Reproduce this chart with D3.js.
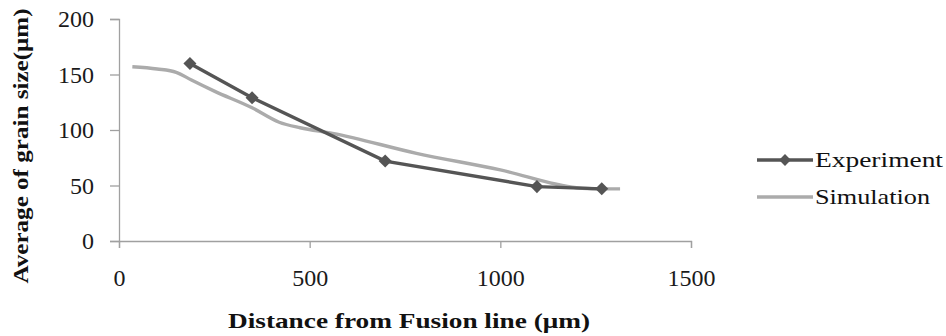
<!DOCTYPE html>
<html>
<head>
<meta charset="utf-8">
<script src="https://cdn.jsdelivr.net/npm/d3@7"></script>
<style>
  body { margin: 0; background: #fff; }
  svg text { font-family: "Times New Roman", "Liberation Serif", Tinos, Times, serif; }
</style>
</head>
<body>
<div id="chart"></div>
<script>
// data
const expX = [186, 349, 698, 1096, 1266];
const expY = [160, 129, 72, 49, 47];
const simX = [35, 100, 150, 190, 250, 349, 420, 475, 560, 780, 1000, 1200, 1250, 1314];
const simY = [157, 155, 152, 145, 135, 120, 107, 102, 97, 79, 64, 48, 47, 47];
const xTicks = [0, 500, 1000, 1500];
const yTicks = [0, 50, 100, 150, 200];
const seriesNames = ["Experiment", "Simulation"];

const width = 946;
const height = 336;
const margin = {left: 119, right: 255, top: 19, bottom: 95};

const svg = d3.select("#chart")
  .append("svg")
  .attr("width", width)
  .attr("height", height);

const xScale = d3.scaleLinear()
  .domain([0, 1500])
  .range([margin.left, width - margin.right]);

const yScale = d3.scaleLinear()
  .domain([0, 200])
  .range([height - margin.bottom, margin.top]);

// y axis
const yAxis = svg.append("g")
  .attr("transform", `translate(${margin.left},0)`)
  .call(d3.axisLeft(yScale).tickValues(yTicks).tickFormat(d3.format("d")).tickSize(9).tickPadding(16));

// x axis
const xAxis = svg.append("g")
  .attr("transform", `translate(0,${height - margin.bottom})`)
  .call(d3.axisBottom(xScale).tickValues(xTicks).tickFormat(d3.format("d")).tickSize(7).tickPadding(21));

yAxis.attr("font-family", null);
xAxis.attr("font-family", null);

svg.selectAll(".tick text")
  .attr("font-size", "24px")
  .attr("fill", "#1a1a1a");

svg.selectAll(".domain, .tick line").attr("stroke", "#a0a0a0").attr("stroke-width", 1.3);

// lines
const expData = expX.map((x, i) => ({x: x, y: expY[i]}));
const simData = simX.map((x, i) => ({x: x, y: simY[i]}));

svg.append("path")
  .datum(simData)
  .attr("fill", "none")
  .attr("stroke", "#ababab")
  .attr("stroke-width", 3.4)
  .attr("d", d3.line().x(d => xScale(d.x)).y(d => yScale(d.y)).curve(d3.curveMonotoneX));

svg.append("path")
  .datum(expData)
  .attr("fill", "none")
  .attr("stroke", "#555")
  .attr("stroke-width", 3.4)
  .attr("d", d3.line().x(d => xScale(d.x)).y(d => yScale(d.y)));

svg.selectAll(".pt")
  .data(expData)
  .enter()
  .append("path")
    .attr("class", "pt")
    .attr("transform", d => `translate(${xScale(d.x)},${yScale(d.y)}) rotate(45)`)
    .attr("d", d3.symbol().type(d3.symbolSquare).size(85))
    .attr("fill", "#555");

// legend
const legend = svg.append("g");
const legY = [160, 197];
const legColors = ["#555", "#ababab"];
const legLen = [128, 115];
seriesNames.forEach((name, i) => {
  legend.append("line")
    .attr("x1", 757).attr("x2", 813)
    .attr("y1", legY[i]).attr("y2", legY[i])
    .attr("stroke", legColors[i]).attr("stroke-width", 3.4);
  if (i === 0) {
    legend.append("path")
      .attr("transform", `translate(785,${legY[i]}) rotate(45)`)
      .attr("d", d3.symbol().type(d3.symbolSquare).size(70))
      .attr("fill", "#555");
  }
  legend.append("text")
    .attr("x", 815).attr("y", legY[i] + 7)
    .attr("font-size", "22px")
    .attr("fill", "#111")
    .attr("textLength", legLen[i])
    .attr("lengthAdjust", "spacingAndGlyphs")
    .text(name);
});

// axis titles
svg.append("text")
  .attr("x", 409)
  .attr("y", 328)
  .attr("text-anchor", "middle")
  .attr("font-size", "22px")
  .attr("font-weight", "bold")
  .attr("fill", "#111")
  .attr("textLength", 362)
  .attr("lengthAdjust", "spacingAndGlyphs")
  .text("Distance from Fusion line (μm)");

svg.append("text")
  .attr("transform", "translate(28,146) rotate(-90)")
  .attr("text-anchor", "middle")
  .attr("font-size", "22px")
  .attr("font-weight", "bold")
  .attr("fill", "#111")
  .attr("textLength", 275)
  .attr("lengthAdjust", "spacingAndGlyphs")
  .text("Average of grain size(μm)");
</script>
</body>
</html>
